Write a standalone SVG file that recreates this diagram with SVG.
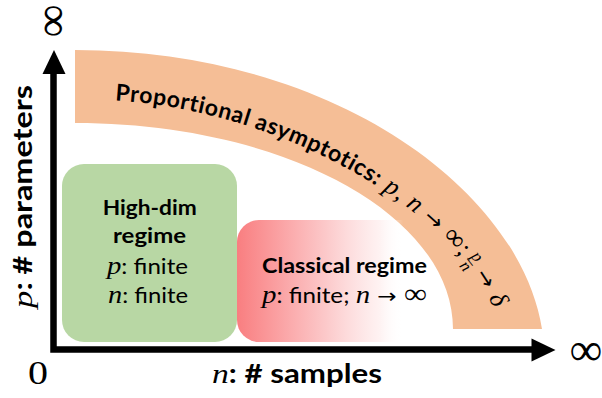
<svg xmlns="http://www.w3.org/2000/svg" width="602" height="398" viewBox="0 0 602 398">
<style>
.sans{font-family:Lato,"Liberation Sans",sans-serif;fill:#000}
.b{font-weight:700}
.r{font-weight:400}
.m{font-family:"Liberation Serif","DejaVu Serif",serif;font-style:italic;font-weight:400}
.mu{font-family:"Liberation Serif","DejaVu Serif",serif;font-style:normal;font-weight:400}
.ar{font-family:"DejaVu Sans",sans-serif;font-style:normal;font-weight:400}
.ax{fill:none;stroke:#000;stroke-width:6.5;stroke-linejoin:miter}
.ah{fill:#000}
</style>
<defs>
<linearGradient id="redGrad" x1="0" y1="0" x2="1" y2="0">
<stop offset="0" stop-color="#F97E80" stop-opacity="1"/>
<stop offset="0.45" stop-color="#FCC9CA" stop-opacity="1"/>
<stop offset="0.72" stop-color="#FEEFEF" stop-opacity="0.8"/>
<stop offset="0.84" stop-color="#FFFFFF" stop-opacity="0"/>
</linearGradient>
<path id="arcPath" d="M 75 99 C 280 97 478 222 502 334"/>
</defs>
<rect width="602" height="398" fill="#FFFFFF"/>

<g id="proportional-asymptotics">
<path d="M 75 50 C 333 50 520 190 542 329 L 453 329 C 453 215 284 123 75 123 Z" fill="#F5BE96"/>
<text class="sans b" font-size="23" letter-spacing="0.6"><textPath href="#arcPath" startOffset="40">Proportional asymptotics:<tspan class="m" font-size="26"> p</tspan><tspan class="mu" font-size="26">, </tspan><tspan class="m" font-size="26">n</tspan><tspan class="ar" font-size="22"> → </tspan><tspan class="mu" font-size="28">∞</tspan><tspan class="mu" font-size="26">;</tspan><tspan class="m" font-size="17" dy="-8"> p</tspan><tspan class="mu" font-size="17" dx="-9" dy="8">–</tspan><tspan class="m" font-size="17" dx="-9" dy="7">n</tspan><tspan class="ar" font-size="22" dy="-7"> → </tspan><tspan class="m" font-size="26">δ</tspan></textPath></text>
</g>

<g id="high-dim-regime">
<rect x="62" y="164" width="175" height="178" rx="22" fill="#B8D7A4"/>
<text class="sans b" x="149.7" y="215" font-size="21" text-anchor="middle" textLength="94" lengthAdjust="spacingAndGlyphs">High-dim</text>
<text class="sans b" x="149.5" y="243" font-size="21" text-anchor="middle" textLength="73" lengthAdjust="spacingAndGlyphs">regime</text>
<text class="sans r" x="147.5" y="274" font-size="21" text-anchor="middle" textLength="81" lengthAdjust="spacingAndGlyphs"><tspan class="m" font-size="25">p</tspan>: finite</text>
<text class="sans r" x="148" y="303" font-size="21" text-anchor="middle" textLength="80" lengthAdjust="spacingAndGlyphs"><tspan class="m" font-size="25">n</tspan>: finite</text>
</g>

<g id="classical-regime">
<rect x="237" y="220" width="198" height="122" rx="22" fill="url(#redGrad)"/>
<text class="sans b" x="262" y="273" font-size="21" textLength="165" lengthAdjust="spacingAndGlyphs">Classical regime</text>
<text class="sans r" x="262" y="303" font-size="21" textLength="165" lengthAdjust="spacingAndGlyphs"><tspan class="m" font-size="25">p</tspan>: finite; <tspan class="m" font-size="25">n</tspan><tspan class="ar" font-size="20"> → </tspan><tspan class="mu" font-size="28">∞</tspan></text>
</g>

<g id="connectors">
<g id="axes">
<path class="ax" d="M 53.5 74 L 53.5 349.5 L 533 349.5"/>
<polygon class="ah" points="54,50 42.5,74 65.5,74"/>
<polygon class="ah" points="555.5,350 531.5,338.5 531.5,361.5"/>
</g>
</g>

<g id="axis-labels">
<text class="mu" x="28" y="384" font-size="33" textLength="20" lengthAdjust="spacingAndGlyphs">0</text>
<text class="mu" font-size="46" text-anchor="middle" dominant-baseline="central" transform="translate(55,21) rotate(90)">∞</text>
<text class="mu" x="586" y="365" font-size="46" text-anchor="middle">∞</text>
<text class="sans b" x="212" y="383" font-size="26" textLength="170" lengthAdjust="spacingAndGlyphs"><tspan class="m" font-size="28">n</tspan>: # samples</text>
<text class="sans b" font-size="26" transform="translate(32,308) rotate(-90)" textLength="223" lengthAdjust="spacingAndGlyphs"><tspan class="m" font-size="28">p</tspan>: # parameters</text>
</g>
</svg>
